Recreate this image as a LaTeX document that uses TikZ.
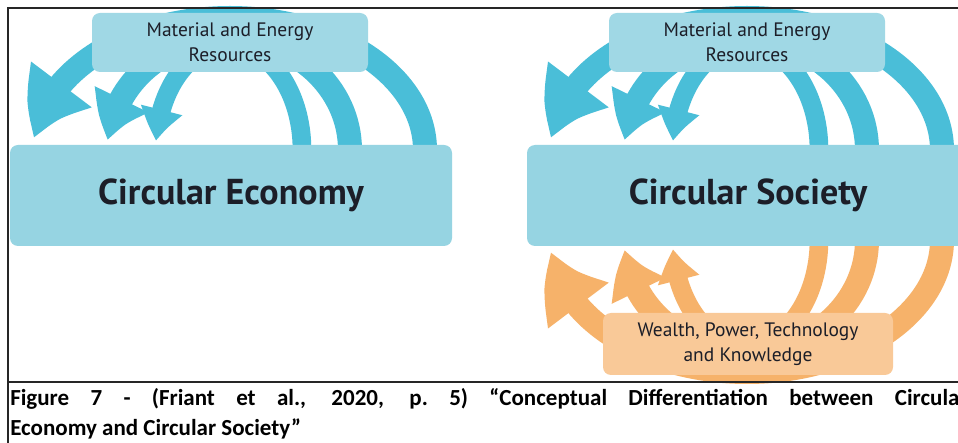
\documentclass[tikz,border=0pt]{standalone}
\usepackage{fontspec}
\setmainfont{PT Sans}
\newfontfamily\captionfont{Carlito}
\usepackage{tikz}
\usepackage{xcolor}
\usetikzlibrary{arrows.meta,bending}

\definecolor{arcblue}{RGB}{74,190,216}
\definecolor{boxblue}{RGB}{150,212,226}
\definecolor{resblue}{RGB}{160,216,229}
\definecolor{arcorange}{RGB}{246,178,106}
\definecolor{boxorange}{RGB}{249,201,152}
\definecolor{labelink}{RGB}{28,30,40}

\begin{document}
\begin{tikzpicture}[x=0.75pt, y=0.75pt,
    bigbox/.style={fill=boxblue, rounded corners=6pt, minimum width=331.5pt, minimum height=75.75pt, text=labelink, font=\fontsize{27}{30}\selectfont\bfseries},
    resbox/.style={fill=resblue, rounded corners=6pt, minimum width=207pt, minimum height=44.25pt, align=center, text=labelink, font=\fontsize{14.6}{18.75}\selectfont},
    wealthbox/.style={fill=boxorange, rounded corners=6pt, minimum width=217.5pt, minimum height=46.5pt, align=center, text=labelink, font=\fontsize{14.6}{18.75}\selectfont},
    outerarc/.style={line width=18pt, -{Triangle[length=45pt, width=54pt, bend]}},
    midarc/.style={line width=18pt, -{Triangle[length=33pt, width=42pt, bend]}},
    innerarc/.style={line width=14pt, -{Triangle[length=24pt, width=30pt, bend]}},
    captext/.style={anchor=base west, inner sep=0pt, font=\captionfont\bfseries\fontsize{17.25}{24}\selectfont}
]
    \fill[white] (0,0) rectangle (958,443);
    \useasboundingbox (0,0) rectangle (958,443);
    \clip (0,0) rectangle (958,443);

    % circular economy
    \draw[outerarc, arcblue] (425,293) arc[start angle=0, end angle=175, x radius=195, y radius=132];
    \draw[midarc, arcblue] (350,293) arc[start angle=0, end angle=175, x radius=121, y radius=112];
    \draw[innerarc, arcblue] (302,293) arc[start angle=0, end angle=175, x radius=73, y radius=105];
    \node[resbox] (resleft) at (230,400.5) {Material and Energy\\Resources};
    \node[bigbox] (economy) at (231,247.5) {Circular Economy};

    % circular society
    \begin{scope}[shift={(517,0)}]
        \draw[outerarc, arcblue] (425,293) arc[start angle=0, end angle=175, x radius=195, y radius=132];
        \draw[midarc, arcblue] (350,293) arc[start angle=0, end angle=175, x radius=121, y radius=112];
        \draw[innerarc, arcblue] (302,293) arc[start angle=0, end angle=175, x radius=73, y radius=105];
        \draw[outerarc, arcorange] (425,203) arc[start angle=0, end angle=-175, x radius=195, y radius=132];
        \draw[midarc, arcorange] (350,203) arc[start angle=0, end angle=-175, x radius=121, y radius=112];
        \draw[innerarc, arcorange] (302,203) arc[start angle=0, end angle=-175, x radius=73, y radius=105];
        \node[resbox] (resright) at (230,400.5) {Material and Energy\\Resources};
        \node[bigbox] (society) at (231,247.5) {Circular Society};
        \node[wealthbox] (wealth) at (231,99) {Wealth, Power, Technology\\and Knowledge};
    \end{scope}

    % frame and caption
    \draw[line width=1.5pt, black!85] (958,435) -- (8,435) -- (8,0);
    \draw[line width=1.5pt, black!85] (8,61) -- (958,61);
    \node[captext] (capone) at (10,37) {\hbox to 718pt{Figure 7 - (Friant et al., 2020, p.\ 5) “Conceptual Differentiation between Circular}};
    \node[captext] (captwo) at (10,7) {Economy and Circular Society”};
\end{tikzpicture}
\end{document}
